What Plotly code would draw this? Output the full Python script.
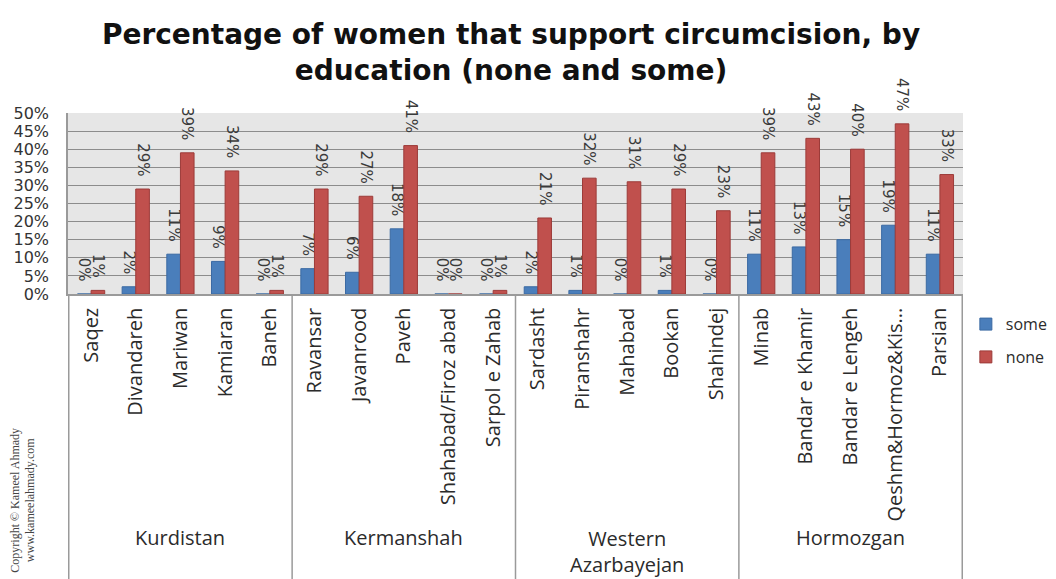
import plotly.graph_objects as go

# Districts and their provinces, left to right
cities = [
    "Saqez", "Divandareh", "Mariwan", "Kamiaran", "Baneh",
    "Ravansar", "Javanrood", "Paveh", "Shahabad/Firoz abad", "Sarpol e Zahab",
    "Sardasht", "Piranshahr", "Mahabad", "Bookan", "Shahindej",
    "Minab", "Bandar e Khamir", "Bandar e Lengeh", "Qeshm&Hormoz&Kis...", "Parsian",
]
provinces = ["Kurdistan", "Kermanshah", "Western<br>Azarbayejan", "Hormozgan"]
cities_per_province = [5, 5, 5, 5]

# Share of women supporting circumcision (fractions)
some = [0.00, 0.02, 0.11, 0.09, 0.00,
        0.07, 0.06, 0.18, 0.00, 0.00,
        0.02, 0.01, 0.00, 0.01, 0.00,
        0.11, 0.13, 0.15, 0.19, 0.11]
none = [0.01, 0.29, 0.39, 0.34, 0.01,
        0.29, 0.27, 0.41, 0.00, 0.01,
        0.21, 0.32, 0.31, 0.29, 0.23,
        0.39, 0.43, 0.40, 0.47, 0.33]

LABEL_FONT = "Open Sans"
TEXT_COL = "#2b2b2b"
BORDER = "#9a9a9a"
NBSP = "\u00a0"

fig = go.Figure()

for name, vals, fill, edge in [
    ("some", some, "#4a7ebb", "#3b6aa3"),
    ("none", none, "#c0504d", "#9c3b39"),
]:
    fig.add_trace(go.Bar(
        name=name,
        legendgroup=name,
        x=cities,
        y=vals,
        marker=dict(color=fill, line=dict(color=edge, width=1)),
        # trailing spaces keep the rotated label a little off the bar top
        text=[f"{v:.0%}" + NBSP * 2 for v in vals],
        textposition="outside",
        textangle=90,
        constraintext="none",
        cliponaxis=False,
        textfont=dict(family="DejaVu Sans", size=15, color="#3a3a3a"),
    ))

# province labels and the vertical dividers of the category box
shapes = []
start = 0
for prov, n in zip(provinces, cities_per_province):
    mid = start + (n - 1) / 2
    fig.add_annotation(
        x=mid, xref="x", y=-1.343 if "<br>" not in prov else -1.423,
        yref="paper", text=prov, showarrow=False,
        font=dict(family=LABEL_FONT, size=20, color=TEXT_COL),
        yanchor="middle",
    )
    shapes.append(dict(
        type="line", xref="x", yref="paper",
        x0=start - 0.5, x1=start - 0.5, y0=0, y1=-1.6,
        line=dict(color=BORDER, width=1.5),
    ))
    start += n
shapes.append(dict(
    type="line", xref="x", yref="paper",
    x0=start - 0.5, x1=start - 0.5, y0=0, y1=-1.6,
    line=dict(color=BORDER, width=1.5),
))

fig.add_annotation(
    x=-0.05, xref="paper", y=-1.552, yref="paper",
    text="Copyright © Kameel Ahmady<br>www.kameelahmady.com",
    textangle=-90, showarrow=False, xanchor="center", yanchor="bottom",
    font=dict(family="Liberation Serif", size=12, color="#444444"),
)

fig.update_layout(
    width=1048,
    height=571,
    title=dict(
        text="<b>Percentage of women that support circumcision, by<br>education (none and some)</b>",
        x=0.48, xanchor="center", y=0.937, yanchor="middle",
        font=dict(family="DejaVu Sans", size=28, color="#111111"),
    ),
    barmode="group",
    bargap=0.39,
    bargroupgap=0,
    plot_bgcolor="#e6e6e6",
    paper_bgcolor="white",
    shapes=shapes,
    legend=dict(
        xref="container", x=0.914, xanchor="left",
        yref="container", y=0.476, yanchor="top",
        font=dict(family=LABEL_FONT, size=16, color=TEXT_COL),
        tracegroupgap=9,
        itemwidth=30,
    ),
    margin=dict(l=60, r=93, t=105, b=285, autoexpand=False),
)

fig.update_xaxes(
    automargin=False,
    tickangle=-90,
    tickfont=dict(family=LABEL_FONT, size=20, color=TEXT_COL),
    ticklabelstandoff=4,
    showline=True, linecolor=BORDER, linewidth=1.5,
    ticks="", showgrid=False,
)
fig.update_yaxes(
    automargin=False,
    range=[0, 0.5],
    dtick=0.05,
    tickformat=".0%",
    tickfont=dict(family="DejaVu Sans", size=16, color="#333333"),
    ticklabelstandoff=14,
    gridcolor="#8c8c8c",
    gridwidth=1,
    zeroline=False,
    showline=True, linecolor=BORDER, linewidth=1.5,
    ticks="",
)

fig.write_html("out.html")
